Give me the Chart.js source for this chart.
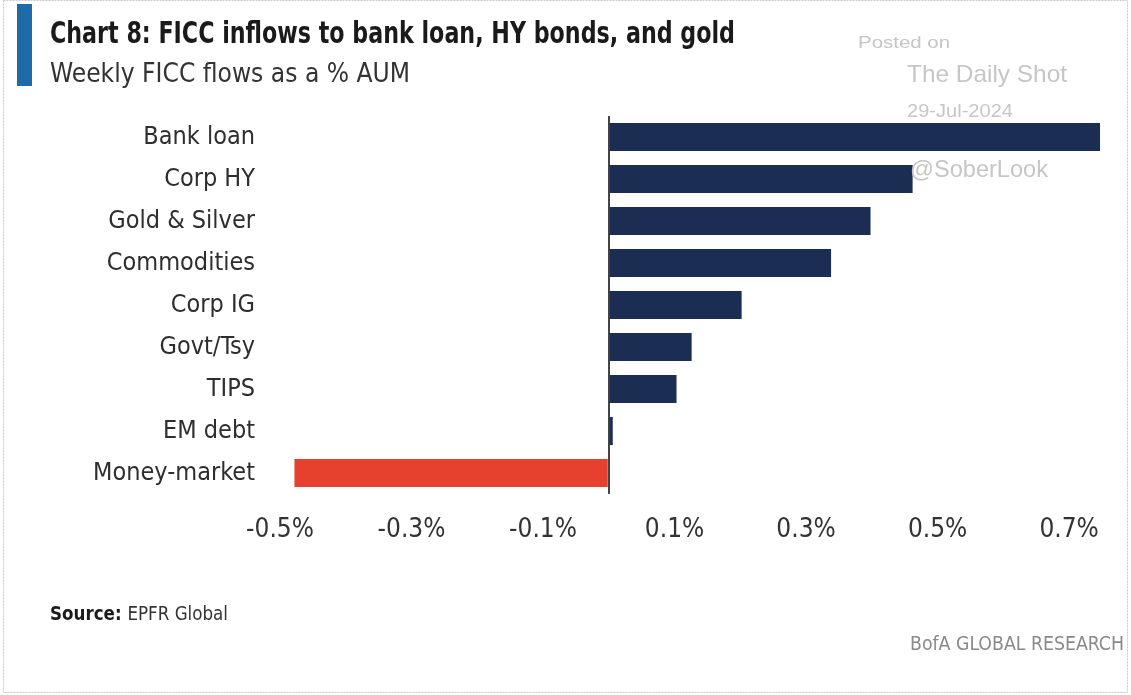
<!DOCTYPE html>
<html>
<head>
<meta charset="utf-8">
<script src="https://cdn.jsdelivr.net/npm/chart.js@4"></script>
<style>
  html, body { margin: 0; padding: 0; background: #ffffff; }
  #wrap { position: relative; width: 1131px; height: 695px; }
  canvas { display: block; }
</style>
</head>
<body>
<div id="wrap"><canvas id="c" width="1131" height="695"></canvas></div>
<script>
// Weekly FICC flows as a % of AUM, by asset class
const categories = ['Bank loan', 'Corp HY', 'Gold & Silver', 'Commodities', 'Corp IG', 'Govt/Tsy', 'TIPS', 'EM debt', 'Money-market'];
const flowsPct = [0.747, 0.462, 0.398, 0.338, 0.202, 0.126, 0.103, 0.006, -0.478];
const tickValues = [-0.5, -0.3, -0.1, 0.1, 0.3, 0.5, 0.7];

const NARROW = "'Liberation Sans Narrow', 'Arial Narrow', 'DejaVu Sans Condensed', sans-serif";
const SANS = "'Liberation Sans', Arial, sans-serif";

// Draw text stretched horizontally to a given width
function fitText(ctx, text, x, y, width, font, color, align) {
  ctx.save();
  ctx.font = font;
  ctx.fillStyle = color;
  ctx.textAlign = 'left';
  ctx.textBaseline = 'alphabetic';
  const w = ctx.measureText(text).width;
  const sx = width / w;
  const left = align === 'right' ? x - width : x;
  ctx.translate(left, y);
  ctx.scale(sx, 1);
  ctx.fillText(text, 0, 0);
  ctx.restore();
}

const decorations = {
  id: 'decorations',
  beforeDraw(chart) {
    const ctx = chart.ctx;
    ctx.save();
    ctx.fillStyle = '#ffffff';
    ctx.fillRect(0, 0, chart.width, chart.height);
    // frame
    ctx.strokeStyle = '#c9c9c9';
    ctx.lineWidth = 1;
    ctx.setLineDash([2, 1]);
    ctx.strokeRect(3.5, 0.5, 1124, 692);
    ctx.setLineDash([]);
    // accent bar
    ctx.fillStyle = '#1f6aa8';
    ctx.fillRect(17, 4, 15, 82);
    ctx.restore();

    fitText(ctx, 'Chart 8: FICC inflows to bank loan, HY bonds, and gold', 50, 43, 685,
      "bold 31px " + NARROW, '#1a1a1a');
    fitText(ctx, 'Weekly FICC flows as a % AUM', 50, 82, 360, "27px " + NARROW, '#333333');

    // source line
    ctx.save();
    const bold = "bold 19px " + NARROW, reg = "19px " + NARROW;
    ctx.font = bold; const w1 = ctx.measureText('Source: ').width;
    ctx.font = reg; const w2 = ctx.measureText('EPFR Global').width;
    const s = 178 / (w1 + w2);
    ctx.translate(50, 620);
    ctx.scale(s, 1);
    ctx.textBaseline = 'alphabetic';
    ctx.fillStyle = '#1a1a1a';
    ctx.font = bold; ctx.fillText('Source: ', 0, 0);
    ctx.fillStyle = '#333333';
    ctx.font = reg; ctx.fillText('EPFR Global', w1, 0);
    ctx.restore();

    fitText(ctx, 'BofA GLOBAL RESEARCH', 1124, 650, 214, "20px " + NARROW, '#8a8a8a', 'right');
  },
  afterDraw(chart) {
    const ctx = chart.ctx;
    const wm = '#c6c6c6';
    fitText(ctx, 'Posted on', 858, 48, 92, "17px " + SANS, wm);
    fitText(ctx, 'The Daily Shot', 907, 82, 160, "24px " + SANS, wm);
    fitText(ctx, '29-Jul-2024', 907, 117, 106, "18px " + SANS, wm);
    fitText(ctx, '@SoberLook', 910, 177, 138, "24px " + SANS, wm);
  }
};

new Chart(document.getElementById('c'), {
  type: 'bar',
  data: {
    labels: categories,
    datasets: [{
      data: flowsPct,
      backgroundColor: flowsPct.map(v => v < 0 ? '#e6402e' : '#1b2d53'),
      borderWidth: 0,
      barPercentage: 0.67,
      categoryPercentage: 1.0
    }]
  },
  options: {
    indexAxis: 'y',
    responsive: false,
    animation: false,
    devicePixelRatio: 1,
    layout: { padding: { top: 116, right: 29, left: 0, bottom: 0 } },
    plugins: { legend: { display: false }, tooltip: { enabled: false }, title: { display: false } },
    scales: {
      x: {
        min: -0.5,
        max: 0.75,
        afterBuildTicks(scale) {
          scale.ticks = tickValues.concat([0]).sort((a, b) => a - b).map(v => ({ value: v }));
        },
        afterFit(scale) { scale.height = 201; },
        border: { display: false },
        grid: {
          drawTicks: false,
          color: c => (c.tick && c.tick.value === 0) ? '#444444' : 'rgba(0,0,0,0)',
          lineWidth: c => (c.tick && c.tick.value === 0) ? 2 : 0
        },
        ticks: {
          autoSkip: false,
          maxRotation: 0,
          padding: 21,
          color: '#333333',
          font: { family: NARROW, size: 26 },
          callback: v => v === 0 ? '' : v.toFixed(1) + '%'
        }
      },
      y: {
        afterFit(scale) { scale.width = 280; },
        border: { display: false },
        grid: { display: false, drawTicks: false },
        ticks: {
          padding: 25,
          color: '#2e2e2e',
          font: { family: NARROW, size: 25 }
        }
      }
    }
  },
  plugins: [decorations]
});
</script>
</body>
</html>
